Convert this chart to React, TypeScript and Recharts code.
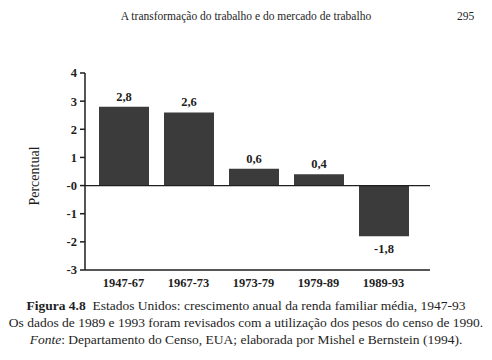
import React from 'react';
import {
  BarChart,
  Bar,
  XAxis,
  YAxis,
  ReferenceLine,
  LabelList,
} from 'recharts';

const periods = ['1947-67', '1967-73', '1973-79', '1979-89', '1989-93'];
const growth = [2.8, 2.6, 0.6, 0.4, -1.8];
const yTicks = [-3, -2, -1, 0, 1, 2, 3, 4];

const data = periods.map((p, i) => ({ period: p, value: growth[i] }));

const serif = "'Liberation Serif', serif";
const ink = '#1e1e1e';

const ValueLabel = (props: any) => {
  const { x, y, width, height, value } = props;
  const top = Math.min(y, y + height);
  const bottom = Math.max(y, y + height);
  const neg = value < 0;
  return (
    <text
      x={x + width / 2}
      y={neg ? bottom + 17 : top - 6}
      textAnchor="middle"
      style={{ fontFamily: serif, fontSize: 12.5, fontWeight: 'bold' }}
      fill={ink}
    >
      {String(value).replace('.', ',')}
    </text>
  );
};

const tickStyle = { fill: ink, fontSize: 12.5, fontWeight: 'bold', fontFamily: serif };

export default function App() {
  return (
    <div
      style={{
        position: 'absolute',
        left: 0,
        top: 0,
        width: 492,
        height: 360,
        background: '#fff',
        fontFamily: serif,
        color: ink,
      }}
    >
      <div style={{ position: 'absolute', left: 0, top: 10, width: 492, textAlign: 'center', fontSize: 11.5 }}>
        A transformação do trabalho e do mercado de trabalho
      </div>
      <div style={{ position: 'absolute', left: 457, top: 10, fontSize: 11.5 }}>295</div>

      <div
        style={{
          position: 'absolute',
          left: 35,
          top: 176,
          transform: 'translate(-50%, -50%) rotate(-90deg)',
          fontSize: 14,
          whiteSpace: 'nowrap',
        }}
      >
        Percentual
      </div>

      <div style={{ position: 'absolute', left: 0, top: 0, fontFamily: serif }}>
        <BarChart
          width={492}
          height={300}
          data={data}
          margin={{ top: 73, right: 62, left: 0, bottom: 0 }}
          barSize={50}
          style={{ fontFamily: serif }}
        >
          <XAxis
            dataKey="period"
            height={30}
            tickLine={false}
            axisLine={{ stroke: ink, strokeWidth: 1.5 }}
            padding={{ left: 6, right: 14 }}
            tick={tickStyle}
            tickMargin={2}
            interval={0}
          />
          <YAxis
            width={85}
            domain={[-3, 4]}
            ticks={yTicks}
            interval={0}
            tickSize={5}
            tickMargin={3}
            tickFormatter={(v: number) => (v === 0 ? '-0' : String(v))}
            axisLine={{ stroke: ink, strokeWidth: 1.5 }}
            tickLine={{ stroke: ink, strokeWidth: 1.5 }}
            tick={tickStyle}
          />
          <ReferenceLine y={0} stroke={ink} strokeWidth={1.2} />
          <Bar dataKey="value" fill="#3b3b3b" isAnimationActive={false}>
            <LabelList dataKey="value" content={<ValueLabel />} />
          </Bar>
        </BarChart>
      </div>

      <div
        style={{
          position: 'absolute',
          left: 0,
          top: 297,
          width: 492,
          textAlign: 'center',
          fontSize: 13.5,
          lineHeight: '17px',
        }}
      >
        <div>
          <b>Figura 4.8</b>&nbsp; Estados Unidos: crescimento anual da renda familiar média, 1947-93
        </div>
        <div>Os dados de 1989 e 1993 foram revisados com a utilização dos pesos do censo de 1990.</div>
        <div>
          <i>Fonte</i>: Departamento do Censo, EUA; elaborada por Mishel e Bernstein (1994).
        </div>
      </div>
    </div>
  );
}
